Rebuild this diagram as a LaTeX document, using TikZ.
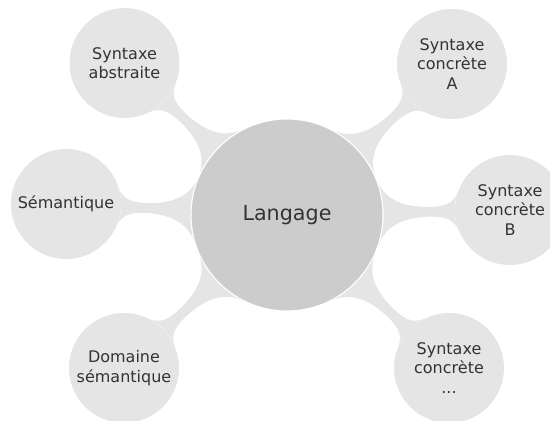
\documentclass[tikz,border=0pt]{standalone}
\usepackage{fontspec}
\setmainfont{DejaVu Sans}
\usetikzlibrary{mindmap,backgrounds}

\begin{document}
\begin{tikzpicture}[x=0.75pt, y=-0.75pt, text=black!80]
    \tikzset{
        hub/.style = {circle, fill = gray!40, draw = white, thick, minimum size = 144pt,
                      inner sep = 1pt, font = \fontsize{15.5}{18}\selectfont},
        topic/.style = {circle, fill = gray!20, minimum size = 82.5pt, inner sep = 1pt,
                        align = center, font = \fontsize{12}{14.5}\selectfont}
    }
    \useasboundingbox (0, 0) rectangle (550, 421);

    \node [hub] (lang) at (287, 215) {Langage};

    \node [topic] (abstraite) at (124.5, 63) {Syntaxe\\abstraite};
    \node [topic] (semantique) at (66, 204) {Sémantique};
    \node [topic] (domaine) at (124, 368) {Domaine\\sémantique};
    \node [topic] (concreteA) at (452, 64) {Syntaxe\\concrète\\A};
    \node [topic] (concreteB) at (510, 210) {Syntaxe\\concrète\\B};
    \node [topic] (concreteC) at (449, 368) {Syntaxe\\concrète\\...};

    \begin{scope}[on background layer]
    \foreach \n in {abstraite, semantique, domaine, concreteA, concreteB, concreteC} {
        \path (lang) to [circle connection bar switch color = from (gray!20) to (gray!20)] (\n);
    }
    \end{scope}

\end{tikzpicture}
\end{document}
